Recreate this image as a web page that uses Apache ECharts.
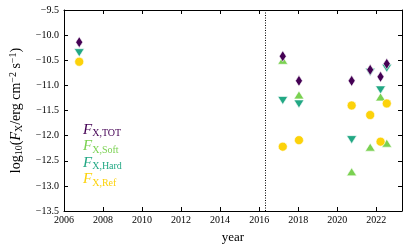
<!DOCTYPE html>
<html>
<head>
<meta charset="utf-8">
<script src="https://cdn.jsdelivr.net/npm/echarts@6/dist/echarts.min.js"></script>
<style>html,body{margin:0;padding:0;background:#fff}#c{width:415px;height:249px}</style>
</head>
<body>
<div id="c"></div>
<script>
// Data
var years    = [2006.78, 2017.21, 2018.04, 2020.74, 2021.69, 2022.22, 2022.54];
var fluxTOT  = [-10.14, -10.42, -10.91, -10.91, -10.69, -10.83, -10.57];
var fluxSoft = [null,   -10.50, -11.19, -12.72, -12.23, -11.23, -12.15];
var fluxHard = [-10.35, -11.30, -11.37, -12.08, -10.74, -11.09, -10.66];
var fluxRef  = [-10.53, -12.22, -12.09, -11.40, -11.59, -12.12, -11.36];
var xTicks = [2006, 2008, 2010, 2012, 2014, 2016, 2018, 2020, 2022];
var yTicks = [-13.5, -13.0, -12.5, -12.0, -11.5, -11.0, -10.5, -10.0, -9.5];
var markerYear = 2016.33;

var colTOT = '#440154', colSoft = '#7ad151', colHard = '#22a884', colRef = '#fcd20a';
var FONT = 'Liberation Serif';

function pairs(vals) {
  var out = [];
  for (var i = 0; i < years.length; i++) if (vals[i] !== null) out.push([years[i], vals[i]]);
  return out;
}
function fmtMinus(v) { return String(v).replace('-', '\u2212'); }

var chart = echarts.init(document.getElementById('c'), null, {renderer: 'canvas'});
var axisCommon = {
  axisLine: {show: true, onZero: false, lineStyle: {color: '#000', width: 1}},
  axisTick: {show: true, inside: true, length: 4, lineStyle: {color: '#000', width: 1}},
  splitLine: {show: false}
};
var legendRich = {
  f: {fontFamily: FONT, fontStyle: 'italic', fontSize: 15},
  s: {fontFamily: FONT, fontSize: 10, verticalAlign: 'bottom', padding: [7, 0, 0, 0]}
};
function legendItem(name, color) {
  return {name: name, icon: 'none', textStyle: {color: color, rich: {
    f: Object.assign({color: color}, legendRich.f),
    s: Object.assign({color: color}, legendRich.s)
  }}};
}

chart.setOption({
  animation: false,
  backgroundColor: '#fff',
  grid: {left: 62, right: 13, top: 10, bottom: 38},
  legend: {
    orient: 'vertical', left: 78, top: 122, itemGap: 0, itemWidth: 0, itemHeight: 16,
    padding: 0,
    formatter: function (n) { return '{f|F}{s|X,' + n + '}'; },
    textStyle: {fontFamily: FONT, fontSize: 15},
    data: [legendItem('TOT', colTOT), legendItem('Soft', colSoft), legendItem('Hard', colHard), legendItem('Ref', colRef)]
  },
  xAxis: [
    Object.assign({
      type: 'value', min: 2006, max: 2023.32, interval: 2, position: 'bottom',
      name: 'year', nameLocation: 'middle', nameGap: 20,
      nameTextStyle: {fontFamily: FONT, fontSize: 13, color: '#000'},
      axisLabel: {fontFamily: FONT, fontSize: 10, color: '#000', margin: 4,
        formatter: function (v) { return xTicks.indexOf(v) >= 0 ? String(v) : ''; }}
    }, axisCommon),
    Object.assign({
      type: 'value', min: 2006, max: 2023.32, interval: 2, position: 'top',
      axisLabel: {show: false}
    }, axisCommon)
  ],
  yAxis: [
    Object.assign({
      type: 'value', min: -13.5, max: -9.5, interval: 0.5, position: 'left',
      name: '{n|log}{sb|10}{n|(}{i|F}{sb|X}{n|/erg cm}{sp|\u22122}{n| s}{sp|\u22121}{n|)}',
      nameLocation: 'middle', nameGap: 40, nameRotate: 90,
      nameTextStyle: {fontFamily: FONT, fontSize: 14, color: '#000', rich: {
        n: {fontFamily: FONT, fontSize: 14, color: '#000'},
        i: {fontFamily: FONT, fontSize: 14, fontStyle: 'italic', color: '#000'},
        sb: {fontFamily: FONT, fontSize: 10, color: '#000', verticalAlign: 'bottom', padding: [6, 0, 0, 0]},
        sp: {fontFamily: FONT, fontSize: 10, color: '#000', verticalAlign: 'top', padding: [0, 0, 6, 0]}
      }},
      axisLabel: {fontFamily: FONT, fontSize: 10, color: '#000', margin: 5,
        formatter: function (v) { return yTicks.indexOf(v) >= 0 ? fmtMinus(v.toFixed(1)) : ''; }}
    }, axisCommon),
    Object.assign({
      type: 'value', min: -13.5, max: -9.5, interval: 0.5, position: 'right',
      axisLabel: {show: false}
    }, axisCommon)
  ],
  series: [
    {name: 'Hard', type: 'scatter', z: 2, data: pairs(fluxHard), symbol: 'triangle', symbolRotate: 180,
     symbolSize: [10, 8], itemStyle: {color: colHard, borderColor: '#fff', borderWidth: 0.6, opacity: 1},
     markLine: {silent: true, symbol: 'none', label: {show: false},
       lineStyle: {color: '#000', type: [1, 1.5], width: 1}, data: [{xAxis: markerYear}]}},
    {name: 'Soft', type: 'scatter', z: 3, data: pairs(fluxSoft), symbol: 'triangle',
     symbolSize: [10, 8], itemStyle: {color: colSoft, borderColor: '#fff', borderWidth: 0.6, opacity: 1}},
    {name: 'TOT', type: 'scatter', z: 4, data: pairs(fluxTOT), symbol: 'diamond',
     symbolSize: [7, 11], itemStyle: {color: colTOT, borderColor: '#fff', borderWidth: 0.6, opacity: 1}},
    {name: 'Ref', type: 'scatter', z: 5, data: pairs(fluxRef), symbol: 'circle',
     symbolSize: 9, itemStyle: {color: colRef, borderColor: '#fff', borderWidth: 0.6, opacity: 1}}
  ]
});
</script>
</body>
</html>
